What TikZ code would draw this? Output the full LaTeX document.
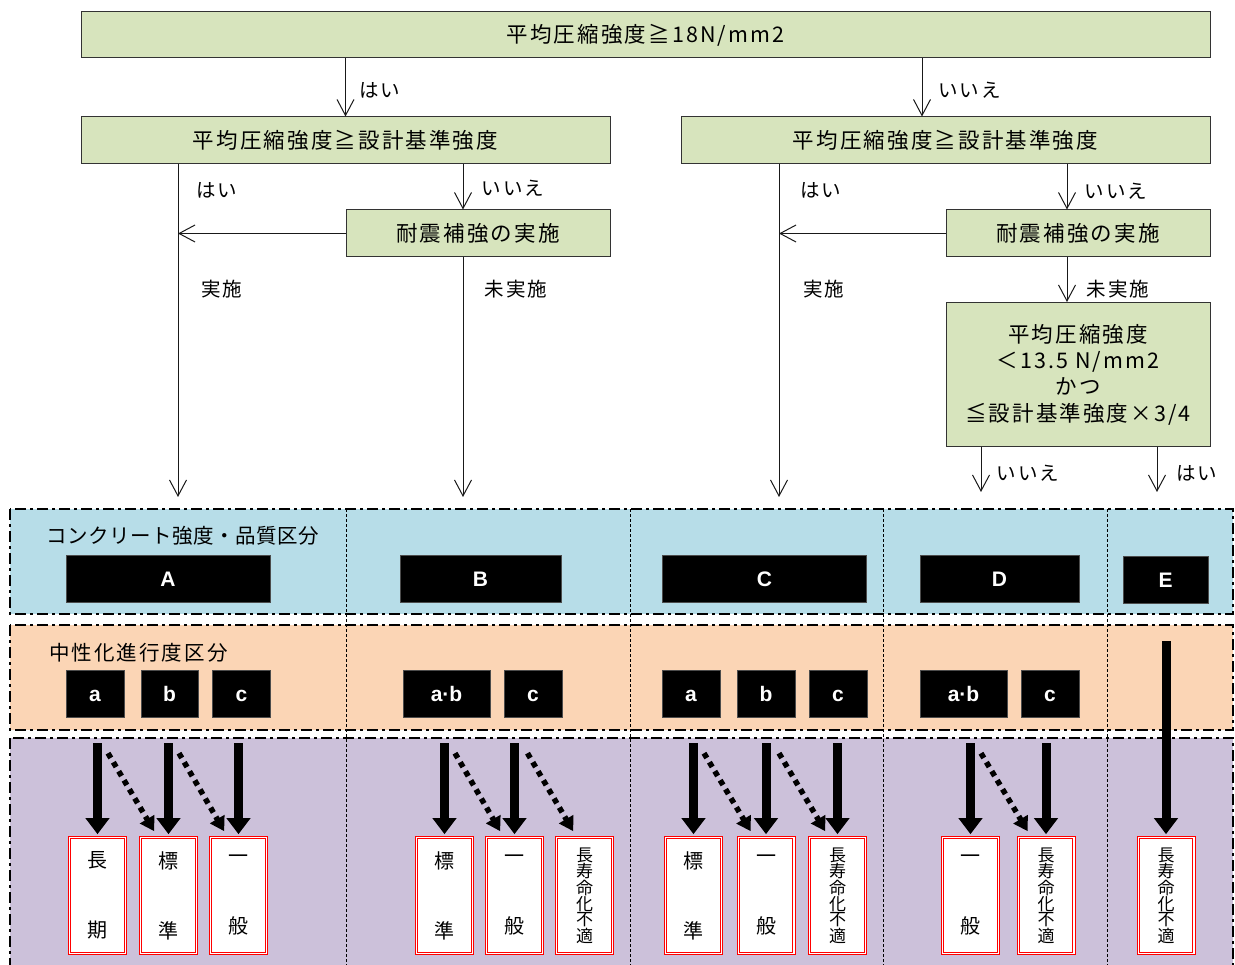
\documentclass[tikz,border=0pt]{standalone}
\usepackage{fontspec}
\newfontfamily\jp{Noto Sans CJK JP}[LetterSpace=10]
\newfontfamily\jpt{Noto Sans CJK JP}[LetterSpace=2.5]
\newfontfamily\jpv{Noto Sans CJK JP}
\newfontfamily\lat{Liberation Sans}
\usetikzlibrary{arrows.meta,calc}
\definecolor{gfill}{HTML}{D7E4BD}
\definecolor{bband}{HTML}{B7DDE8}
\definecolor{oband}{HTML}{FBD5B5}
\definecolor{pband}{HTML}{CCC1DA}
\tikzset{
  gbox/.style={draw=black!80, fill=gfill, line width=1pt, inner sep=0pt, align=center,
    font=\jp\fontsize{21.5}{26.3}\selectfont},
  jlbl/.style={font=\jp\fontsize{19.5}{24}\selectfont, inner sep=0pt},
  blk/.style={fill=black, draw=black!70, line width=0.6pt, inner sep=0pt, text=white,
    minimum height=47pt, text height=15pt, text depth=0pt,
    font=\lat\bfseries\fontsize{21}{24}\selectfont},
  res/.style={draw=red, double=white, double distance=1.4pt, line width=1pt, fill=white,
    inner sep=0pt, minimum width=55.6pt, minimum height=115.6pt, align=center,
    font=\jpv\fontsize{20}{22}\selectfont},
  vres/.style={res, font=\jpv\fontsize{17}{15}\selectfont},
  flow/.style={draw=black!90, line width=1pt, -{Straight Barb[length=16pt,width=17pt]}},
  bigarr/.style={line width=9pt, shorten >=3pt, -{Triangle[length=16pt,width=23pt]}},
  dotarr/.style={line width=5.5pt, dash pattern=on 5.5pt off 5pt, -{Triangle[length=14pt,width=16pt]}},
  bandline/.style={line width=2.8pt, dash pattern=on 11pt off 4pt on 3pt off 4pt},
  sepline/.style={line width=0.8pt, dash pattern=on 3pt off 2pt}
}
\begin{document}
\begin{tikzpicture}[x=1pt,y=-1pt]
\useasboundingbox (0,0) rectangle (1235,965);
\clip (0,0) rectangle (1235,965);

% ---------- flow chart ----------
\node[gbox, minimum width=1129pt, minimum height=46pt] (top) at (645.5,35) {平均圧縮強度≧18N/mm2};
\node[gbox, minimum width=529pt, minimum height=47pt] (L2) at (345.5,140.5) {平均圧縮強度≧設計基準強度};
\node[gbox, minimum width=529pt, minimum height=47pt] (R2) at (945.5,140.5) {平均圧縮強度≧設計基準強度};
\node[gbox, minimum width=264pt, minimum height=47pt] (LR) at (478,233.5) {耐震補強の実施};
\node[gbox, minimum width=264pt, minimum height=47pt] (RR) at (1078,233.5) {耐震補強の実施};
\node[gbox, minimum width=264pt, minimum height=144pt] (RC) at (1078,374.5) {平均圧縮強度\\＜13.5 N/mm2\\かつ\\≦設計基準強度×3/4};

\draw[flow] (top.south -| L2.north) -- (L2.north);
\node[jlbl, anchor=west] (yes1) at (359,90) {はい};
\coordinate (n1) at (922,0);
\draw[flow] (top.south -| n1) -- (R2.north -| n1);
\node[jlbl, anchor=west] (no1) at (938,90) {いいえ};

% left branch
\coordinate (Lv) at (178,497);
\coordinate (Lb) at (463,497);
\draw[flow] (L2.south -| Lv) -- (Lv);
\draw[flow] (L2.south -| Lb) -- (LR.north -| Lb);
\draw[flow] (LR.south -| Lb) -- (Lb);
\draw[flow] (LR.west) -- (LR.west -| Lv);
\node[jlbl] (yes2) at (217,190) {はい};
\node[jlbl] (no2) at (513,188) {いいえ};
\node[jlbl] (do2) at (222,289) {実施};
\node[jlbl] (nd2) at (516,289) {未実施};

% right branch
\coordinate (Rv) at (779,497);
\coordinate (Rb) at (1067,0);
\draw[flow] (R2.south -| Rv) -- (Rv);
\draw[flow] (R2.south -| Rb) -- (RR.north -| Rb);
\draw[flow] (RR.west) -- (RR.west -| Rv);
\draw[flow] (RR.south -| Rb) -- (RC.north -| Rb);
\node[jlbl] (yes3) at (821,190) {はい};
\node[jlbl] (no3) at (1116,191) {いいえ};
\node[jlbl] (do3) at (824,289) {実施};
\node[jlbl] (nd3) at (1118,289) {未実施};
\coordinate (Dn) at (981,492);
\coordinate (En) at (1157,492);
\draw[flow] (RC.south -| Dn) -- (Dn);
\draw[flow] (RC.south -| En) -- (En);
\node[jlbl] (no4) at (1028,473) {いいえ};
\node[jlbl] (yes4) at (1197,473) {はい};

% ---------- bands ----------
\fill[bband] (10,509) rectangle (1233,614);
\fill[oband] (10,625) rectangle (1233,730);
\fill[pband] (10,738) rectangle (1233,985);
\foreach \sx in {346,630,883,1107} \draw[sepline] (\sx,509) -- (\sx,965);
\draw[bandline] (10,509) rectangle (1233,614);
\draw[bandline] (10,625) rectangle (1233,730);
\draw[bandline] (10,738) rectangle (1233,985);

\node[jlbl, anchor=west, font=\jpt\fontsize{20.5}{24}\selectfont] (t1) at (46,536) {コンクリート強度・品質区分};
\node[jlbl, anchor=west, font=\jp\fontsize{20.5}{24}\selectfont] (t2) at (49,653) {中性化進行度区分};

% row 1
\node[blk, minimum width=204pt] (A) at (168,579) {A};
\node[blk, minimum width=161pt] (B) at (480.5,579) {B};
\node[blk, minimum width=204pt] (C) at (764.5,579) {C};
\node[blk, minimum width=159pt] (D) at (999.5,579) {D};
\node[blk, minimum width=85pt] (E) at (1165.5,580) {E};

% row 2
\node[blk, minimum width=58pt] (a1) at (95,694) {a};
\node[blk, minimum width=57pt] (b1) at (169.5,694) {b};
\node[blk, minimum width=58pt] (c1) at (241.5,694) {c};
\node[blk, minimum width=87pt] (ab2) at (446.5,694) {a\textperiodcentered b};
\node[blk, minimum width=58pt] (c2) at (533,694) {c};
\node[blk, minimum width=58pt] (a3) at (691,694) {a};
\node[blk, minimum width=58pt] (b3) at (766,694) {b};
\node[blk, minimum width=58pt] (c3) at (838,694) {c};
\node[blk, minimum width=87pt] (ab4) at (963.5,694) {a\textperiodcentered b};
\node[blk, minimum width=58pt] (c4) at (1050,694) {c};

% result boxes
\node[res] (rA1) at (97.5,895.5) {長\\[48pt]期};
\node[res] (rA2) at (168.5,895.5) {標\\[48pt]準};
\node[res] (rA3) at (238.5,895.5) {一\\[48pt]般};
\node[res] (rB1) at (444.5,895.5) {標\\[48pt]準};
\node[res] (rB2) at (514.5,895.5) {一\\[48pt]般};
\node[vres] (rB3) at (584.5,895.5) {長\\寿\\命\\化\\不\\適};
\node[res] (rC1) at (693.5,895.5) {標\\[48pt]準};
\node[res] (rC2) at (766,895.5) {一\\[48pt]般};
\node[vres] (rC3) at (837.5,895.5) {長\\寿\\命\\化\\不\\適};
\node[res] (rD1) at (970.5,895.5) {一\\[48pt]般};
\node[vres] (rD2) at (1046,895.5) {長\\寿\\命\\化\\不\\適};
\node[vres] (rE) at (1166,895.5) {長\\寿\\命\\化\\不\\適};

% result arrows
\coordinate (st) at (0,743);
\coordinate (stE) at (0,641);
\foreach \r in {rA1,rA2,rA3,rB1,rB2,rC1,rC2,rC3,rD1,rD2}
  \draw[bigarr] (\r.north |- st) -- (\r.north);
\draw[bigarr] (rE.north |- stE) -- (rE.north);

\draw[dotarr] ($(rA1.north)+(10.5,-84)$) -- ($(rA2.north west)+(14,-6)$);
\draw[dotarr] ($(rA2.north)+(10.5,-84)$) -- ($(rA3.north west)+(14,-6)$);
\draw[dotarr] ($(rB1.north)+(10.5,-84)$) -- ($(rB2.north west)+(14,-6)$);
\draw[dotarr] ($(rB2.north)+(13,-84)$) -- ($(rB3.north west)+(17,-6)$);
\draw[dotarr] ($(rC1.north)+(10.5,-84)$) -- ($(rC2.north west)+(13,-6)$);
\draw[dotarr] ($(rC2.north)+(13,-84)$) -- ($(rC3.north west)+(16,-6)$);
\draw[dotarr] ($(rD1.north)+(10.5,-84)$) -- ($(rD2.north west)+(10,-6)$);
\end{tikzpicture}
\end{document}
